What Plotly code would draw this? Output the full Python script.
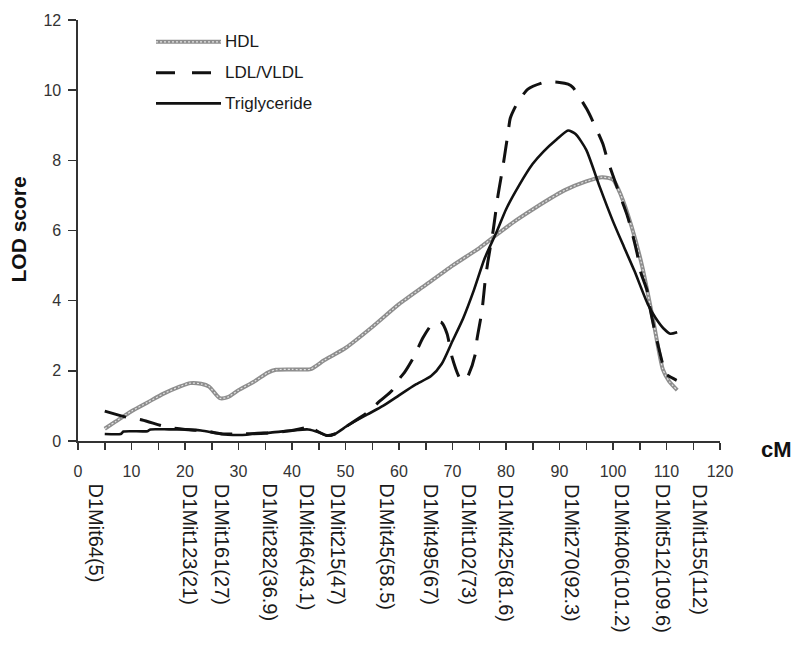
import plotly.graph_objects as go

# ---------------- data ----------------
hdl_cm = [5, 7, 10, 13, 16, 19, 21, 23, 24.5, 26.5, 28, 30, 33, 35.5, 37, 40, 43.5, 46, 50, 55, 60, 65,
          70, 75, 78, 82, 86, 91, 95, 98, 100, 101.5, 103.5, 105.5, 107.5, 109.3, 110.5, 112]
hdl_lod = [0.35, 0.55, 0.85, 1.1, 1.35, 1.55, 1.65, 1.63, 1.55, 1.22, 1.25, 1.45, 1.7, 1.95, 2.03, 2.04, 2.05,
           2.3, 2.65, 3.25, 3.9, 4.45, 5.0, 5.5, 5.85, 6.3, 6.7, 7.15, 7.4, 7.52, 7.45, 7.0, 6.1, 4.95, 3.45,
           2.05, 1.7, 1.45]

ldl_cm = [5, 9, 12, 16.5, 20, 24, 27, 30, 35, 40, 42.5, 43.4, 44.5, 46.5, 48, 51, 54, 56.5, 58.7, 60.2, 61,
          62.6, 64.5, 66.2, 67, 68, 69, 69.9, 71.4, 72.2, 72.9, 74.2, 74.6, 75.5, 76.1, 76.6, 77.6, 78.5, 79.4,
          80.4, 80.8, 82, 84.1, 87.3, 90, 91.6, 92.5, 95.1, 96.3, 98.1, 98.9, 100.4, 101.3, 102.6, 103.5, 104.5,
          105.2, 106.4, 106.9, 108, 109.2, 109.7, 111.9]
ldl_lod = [0.85, 0.68, 0.6, 0.4, 0.33, 0.28, 0.2, 0.2, 0.22, 0.3, 0.38, 0.45, 0.3, 0.16, 0.2, 0.5, 0.8, 1.15,
           1.44, 1.8, 1.95, 2.35, 2.95, 3.34, 3.4, 3.37, 3.05, 2.4, 1.78, 1.72, 1.85, 2.44, 2.92, 3.7, 4.56, 5.1,
           6.0, 7.0, 7.8, 8.8, 9.2, 9.6, 10.03, 10.23, 10.22, 10.17, 10.08, 9.46, 9.09, 8.47, 8.05, 7.39, 7.0,
           6.46, 5.98, 5.35, 4.8, 4.28, 3.8, 3.0, 2.24, 1.93, 1.73]

tg_cm = [5, 8, 8.5, 13, 13.5, 17, 20, 23, 26, 28, 31.5, 33, 36, 40, 43, 45, 46.5, 48, 50.5, 54, 57, 60, 63,
         66, 68, 70, 72, 74, 76, 78.3, 80, 82.5, 85, 87, 89.5, 91.6, 93, 95, 97.5, 100, 102, 104, 106.5, 108,
         109.5, 110.7, 112]
tg_lod = [0.2, 0.2, 0.27, 0.28, 0.33, 0.33, 0.33, 0.3, 0.22, 0.18, 0.18, 0.22, 0.24, 0.3, 0.33, 0.25, 0.15,
          0.2, 0.45, 0.75, 1.0, 1.3, 1.6, 1.85, 2.2, 2.85, 3.5, 4.3, 5.2, 5.98, 6.6, 7.3, 7.9, 8.25, 8.6, 8.85,
          8.75, 8.3, 7.25, 6.26, 5.55, 4.85, 3.9, 3.5, 3.2, 3.06, 3.1]

marker_names = ["D1Mit64(5)", "D1Mit123(21)", "D1Mit161(27)", "D1Mit282(36.9)", "D1Mit46(43.1)",
                "D1Mit215(47)", "D1Mit45(58.5)", "D1Mit495(67)", "D1Mit102(73)", "D1Mit425(81.6)",
                "D1Mit270(92.3)", "D1Mit406(101.2)", "D1Mit512(109.6)", "D1Mit155(112)"]
marker_cm = [5, 21, 27, 36.9, 43.1, 47, 58.5, 67, 73, 81.6, 92.3, 101.2, 109.6, 112]

series_names = ["HDL", "LDL/VLDL", "Triglyceride"]

# ---------------- style / layout ----------------
marker_xshift = [-9, -1, -1, -5, -2, 8, -4, -6, 0, -8, 0, 2, -2, 23]
FONT = "Arial, Liberation Sans, sans-serif"
W, H = 800, 645
pw, ph = 642, 424
ML, MT = 78, 17
MR, MB = W - ML - pw, H - MT - ph


def px_to_paper(px, py):
    return (px - ML) / pw, (MT + ph - py) / ph


fig = go.Figure()
SM = 0.6
# HDL: gray ribbon
fig.add_trace(go.Scatter(x=hdl_cm, y=hdl_lod, mode="lines", name=series_names[0],
                         line=dict(color="#8e8e8e", width=4, shape="spline", smoothing=SM),
                         showlegend=False, hoverinfo="skip"))
fig.add_trace(go.Scatter(x=hdl_cm, y=hdl_lod, mode="lines", name=series_names[0],
                         line=dict(color="#e2e2e2", width=1.2, shape="spline", smoothing=SM, dash="2px,2px"),
                         showlegend=False, hoverinfo="skip"))
fig.add_trace(go.Scatter(x=ldl_cm, y=ldl_lod, mode="lines", name=series_names[1],
                         line=dict(color="#111111", width=3, shape="spline", smoothing=SM, dash="22px,14px"),
                         showlegend=False))
fig.add_trace(go.Scatter(x=tg_cm, y=tg_lod, mode="lines", name=series_names[2],
                         line=dict(color="#111111", width=2.6, shape="spline", smoothing=SM),
                         showlegend=False))

# manual legend
leg_y = [39, 70, 101]
lx0, lx1 = px_to_paper(156, 0)[0], px_to_paper(221, 0)[0]
tx = px_to_paper(223, 0)[0]
shapes = []
for i, ly in enumerate(leg_y):
    yy = px_to_paper(0, ly)[1]
    if i == 0:
        shapes.append(dict(type="line", xref="paper", yref="paper", x0=lx0, x1=lx1, y0=yy, y1=yy,
                           line=dict(color="#8e8e8e", width=4)))
        shapes.append(dict(type="line", xref="paper", yref="paper", x0=lx0, x1=lx1, y0=yy, y1=yy,
                           line=dict(color="#e2e2e2", width=1.2, dash="2px,2px")))
    elif i == 1:
        shapes.append(dict(type="line", xref="paper", yref="paper", x0=lx0, x1=lx1, y0=yy, y1=yy,
                           line=dict(color="#111111", width=3, dash="19px,17px")))
    else:
        shapes.append(dict(type="line", xref="paper", yref="paper", x0=lx0, x1=lx1, y0=yy, y1=yy,
                           line=dict(color="#111111", width=2.6)))

annotations = []
for i, ly in enumerate(leg_y):
    yy = px_to_paper(0, ly)[1]
    annotations.append(dict(x=tx, y=yy, xref="paper", yref="paper", text=series_names[i],
                            showarrow=False, xanchor="left", yanchor="middle",
                            font=dict(family=FONT, size=17, color="#1a1a1a")))

# marker labels
top_y = px_to_paper(0, 482)[1]
for name, cm, sh in zip(marker_names, marker_cm, marker_xshift):
    annotations.append(dict(x=cm, y=top_y, xref="x", yref="paper", text=name, textangle=90,
                            showarrow=False, xanchor="center", yanchor="top", xshift=sh,
                            font=dict(family=FONT, size=20, color="#1a1a1a")))

# axis titles
cx, cy = px_to_paper(776, 450)
annotations.append(dict(x=cx, y=cy, xref="paper", yref="paper", text="<b>cM</b>", showarrow=False,
                        xanchor="center", yanchor="middle",
                        font=dict(family=FONT, size=22, color="#111111")))
lx, ly_ = px_to_paper(19, 228)
annotations.append(dict(x=lx, y=ly_, xref="paper", yref="paper", text="<b>LOD score</b>", showarrow=False,
                        textangle=-90, xanchor="center", yanchor="middle",
                        font=dict(family=FONT, size=21, color="#111111")))

fig.update_layout(
    width=W, height=H,
    margin=dict(l=ML, r=MR, t=MT, b=MB),
    paper_bgcolor="white", plot_bgcolor="white",
    shapes=shapes, annotations=annotations,
    showlegend=False,
    font=dict(family=FONT, color="#222222"),
)
fig.update_xaxes(range=[0, 120], dtick=10, tick0=0, ticks="outside", ticklen=7, tickwidth=1.5,
                 tickcolor="#333333", showline=True, linecolor="#333333", linewidth=1.6,
                 showgrid=False, zeroline=False, tickfont=dict(family=FONT, size=16, color="#333333"),
                 ticklabelstandoff=8,
                 minor=dict(dtick=5, ticks="outside", ticklen=7, tickwidth=1.5, tickcolor="#333333",
                            showgrid=False))
fig.update_yaxes(range=[0, 12], dtick=2, tick0=0, ticks="outside", ticklen=8, tickwidth=1.5,
                 tickcolor="#333333", showline=True, linecolor="#333333", linewidth=1.6,
                 showgrid=False, zeroline=False, tickfont=dict(family=FONT, size=16, color="#333333"),
                 ticklabelstandoff=4)

fig.write_html("out.html", config={"displayModeBar": False, "staticPlot": True},
               post_script="document.body.style.margin='0';document.body.style.overflow='hidden';")
